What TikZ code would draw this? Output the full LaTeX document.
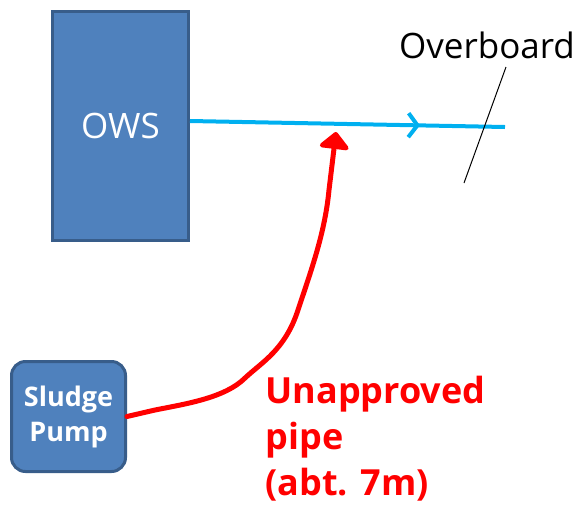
\documentclass[tikz,border=0pt]{standalone}
\usepackage{fontspec}
\setmainfont{Open Sans}
\usetikzlibrary{arrows.meta,decorations.markings}
\definecolor{owsblue}{HTML}{4F81BD}
\definecolor{owsedge}{HTML}{385D8A}
\definecolor{pipeblue}{HTML}{00B0F0}
\begin{document}
\begin{tikzpicture}[x=1pt,y=-1pt,
			unitbox/.style={draw=owsedge,fill=owsblue,line width=3pt,text=white},
			bluepipe/.style={draw=pipeblue,line width=4pt},
			redpipe/.style={draw=red,line width=5pt,line join=round,line cap=round}
			]
			\useasboundingbox (0,0) rectangle (580,504);
			\node[unitbox, minimum width=136pt, minimum height=229pt, font=\fontsize{35}{35}\selectfont] (ows) at (120.5,126) {OWS};
			\node[unitbox, rounded corners=14pt, minimum width=114pt, minimum height=110pt, align=center, font=\fontsize{27}{35}\selectfont\bfseries] (pump) at (68.5,416.5) {Sludge\\Pump};
			\node[font=\fontsize{35}{35}\selectfont, anchor=center] (board) at (487,45) {Overboard};
			\node[text=red, align=left, anchor=north west, font=\fontsize{36}{46}\selectfont\bfseries] (lbl) at (262,373) {Unapproved\\pipe\\(abt. 7m)};
			% outlet and hull
			\coordinate (out) at (505,127);
			\coordinate (hullA) at (506,67);
			\coordinate (hullB) at (464,183);
			\coordinate (tip) at (336,132);
			\draw[bluepipe, postaction={decorate}, decoration={markings, mark=at position 0.73 with {\arrow[pipeblue, line width=4pt]{Straight Barb[length=9pt,width=24pt]}}}] ([yshift=5pt]ows.east) -- (out);
			\draw[black, line width=1pt] (hullA) -- (hullB);
			%%%%%%%%%%%%%%%
			\draw[redpipe, -{Triangle[width=34pt,length=18pt,round]}] (pump.east) -- (155,410)
				.. controls (185,404) and (225,398) .. (245,378)
				.. controls (262,362) and (285,350) .. (298,310)
				.. controls (312,268) and (325,232) .. (329,190)
				-- (tip);
		\end{tikzpicture}
\end{document}
